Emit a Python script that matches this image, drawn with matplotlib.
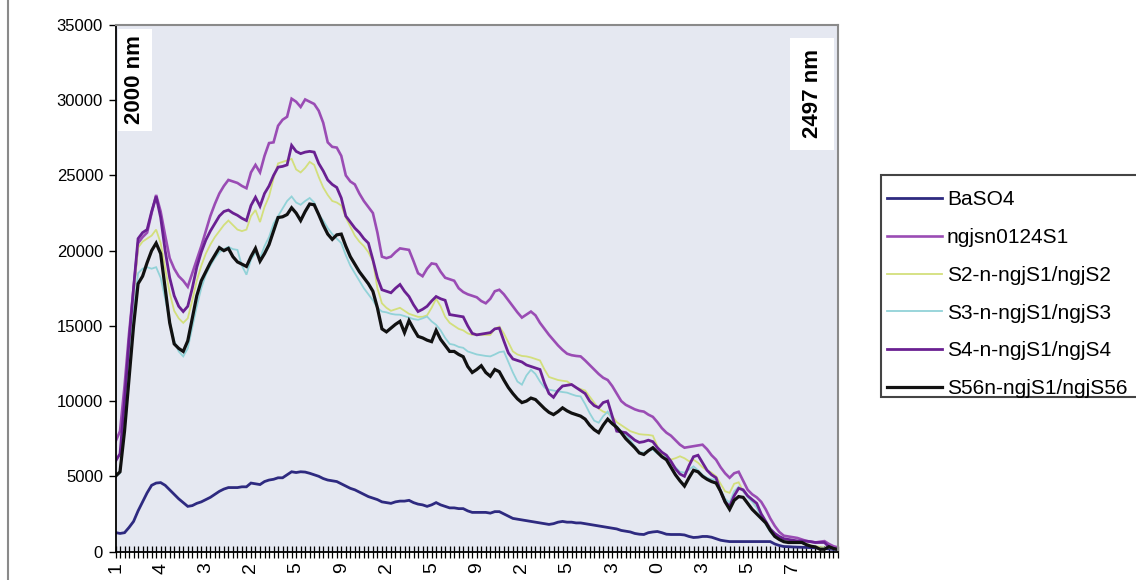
import numpy as np
import matplotlib
matplotlib.use("Agg")
import matplotlib.pyplot as plt
from matplotlib.lines import Line2D
from matplotlib.patches import Rectangle

plt.rcParams['font.family'] = ['Liberation Sans', 'DejaVu Sans']

# ---------------- data ----------------
series_names = ["BaSO4", "ngjsn0124S1", "S2-n-ngjS1/ngjS2", "S3-n-ngjS1/ngjS3",
                "S4-n-ngjS1/ngjS4", "S56n-ngjS1/ngjS56"]

baso4 = [
    1260, 1200, 1250, 1600, 2000, 2700, 3300, 3900, 4400, 4550,
    4580, 4400, 4100, 3800, 3500, 3250, 3000, 3050, 3200, 3300,
    3450, 3600, 3800, 4000, 4150, 4250, 4250, 4250, 4300, 4300,
    4550, 4500, 4450, 4650, 4750, 4800, 4900, 4900, 5100, 5300,
    5250, 5300, 5280, 5200, 5100, 5000, 4850, 4750, 4700, 4650,
    4500, 4350, 4200, 4100, 3950, 3800, 3650, 3550, 3450, 3300,
    3250, 3200, 3300, 3350, 3350, 3400, 3250, 3150, 3100, 3000,
    3100, 3250, 3100, 3000, 2900, 2900, 2850, 2850, 2700, 2600,
    2600, 2600, 2600, 2550, 2650, 2650, 2500, 2350, 2200, 2150,
    2100, 2050, 2000, 1950, 1900, 1850, 1800, 1850, 1950, 2000,
    1950, 1950, 1900, 1900, 1850, 1800, 1750, 1700, 1650, 1600,
    1550, 1500, 1400, 1350, 1300, 1200, 1150, 1130, 1250, 1300,
    1330, 1250, 1150, 1130, 1130, 1130, 1100, 1000, 930, 950,
    1000, 1000, 950, 850, 750, 700, 660, 660, 660, 660,
    660, 660, 660, 660, 660, 660, 500, 400, 330, 320,
    300, 290, 280, 270, 260, 250, 230, 200, 170, 140,
    130]

ngjsn0124s1 = [
    7300, 8000, 11000, 14500, 17500, 20500, 20900, 21200, 22500, 23700,
    22600, 21000, 19500, 18800, 18300, 18000, 17600, 18500, 19400, 20300,
    21300, 22300, 23100, 23800, 24300, 24700, 24600, 24500, 24300, 24150,
    25200, 25700, 25200, 26300, 27150, 27200, 28300, 28700, 28900, 30100,
    29900, 29550, 30050, 29900, 29750, 29300, 28500, 27200, 26900, 26850,
    26300, 25000, 24600, 24400, 23800, 23300, 22900, 22500, 21200, 19600,
    19500, 19600, 19900, 20150, 20100, 20050, 19300, 18500, 18300, 18800,
    19150, 19100, 18600, 18200, 18100, 18000, 17500, 17250, 17100, 17000,
    16900, 16650, 16500, 16800, 17300, 17400, 17100, 16700, 16300, 15900,
    15550, 15750, 15950, 15700, 15200, 14800, 14400, 14050, 13700, 13400,
    13150, 13050, 13000, 12970, 12700, 12400, 12100, 11800, 11550, 11400,
    11000, 10500, 10000, 9750, 9600, 9450, 9350, 9300, 9100, 8950,
    8600, 8200, 7900, 7700, 7400, 7100, 6900, 6950, 7000, 7050,
    7100, 6800, 6400, 6100, 5600, 5200, 4900, 5200, 5300, 4700,
    4100, 3800, 3600, 3300, 2800, 2200, 1700, 1300, 1050, 1000,
    950, 900, 800, 700, 650, 600, 650, 690, 500, 350,
    270]

s2 = [
    5100, 5300, 9000, 13000, 17000, 20200, 20600, 20800, 21000, 21400,
    20500, 18800, 17200, 16000, 15500, 15200, 15500, 16700, 18000, 19000,
    19800, 20400, 20900, 21300, 21700, 22000, 21700, 21400, 21300, 21400,
    22300, 22700, 21900, 22900, 23600, 24800, 25800, 25900, 26000, 26100,
    25400, 25200, 25500, 25900, 25700, 24900, 24200, 23700, 23300, 23200,
    23000, 22200, 21600, 21000, 20600, 20300, 19900, 19300, 17500, 16500,
    16200, 16000, 16100, 16200, 16000, 15800, 15700, 15600, 15600, 15700,
    16200, 16800, 16300, 15600, 15200, 15000, 14800, 14700, 14500, 14400,
    14450, 14400, 14400, 14400, 14800, 14950, 14500, 13900, 13300, 13100,
    13000, 12970, 12900, 12800, 12700, 12100, 11600, 11500, 11400, 11350,
    11310, 11100, 10900, 10800, 10700, 10300, 9900, 9500, 9300, 9200,
    9000, 8600, 8400, 8200, 8000, 7900, 7800, 7770, 7750, 7700,
    7000, 6500, 6200, 6110, 6200, 6330, 6200, 6000, 6100, 5900,
    5600, 5400, 5240, 5000, 4500, 4000, 3900, 4500, 4600, 4000,
    3700, 3400, 3000, 2400, 1900, 1400, 1100, 900, 800, 700,
    700, 700, 650, 500, 400, 350, 300, 250, 300, 200,
    130]

s3 = [
    5000, 5200, 8500, 12500, 16000, 18500, 18800, 18900, 18800, 18900,
    18200, 16800, 15300, 14000, 13300, 12970, 13500, 14900, 16300, 17500,
    18400, 19000, 19500, 19900, 20100, 20250, 20100, 20050, 19000, 18400,
    19400, 19850, 19500, 20300, 20900, 21800, 22300, 22800, 23300, 23600,
    23200, 23050, 23300, 23500, 23200, 22400, 22000, 21500, 21100, 20800,
    20500, 19700, 19000, 18500, 18000, 17500, 17100, 16700, 16200, 15950,
    15900, 15800, 15750, 15740, 15650, 15550, 15450, 15400, 15500, 15620,
    15300, 15070, 14700, 14200, 13800, 13740, 13600, 13540, 13300, 13200,
    13100, 13050, 13000, 12970, 13100, 13250, 13300, 12600, 11900, 11300,
    11090, 11700, 12080, 11800, 11300, 10900, 10760, 10700, 10650, 10600,
    10560, 10450, 10350, 10310, 9800, 9200, 8700, 8560, 9000, 9300,
    8800, 8300, 8000, 7770, 7400, 7000, 6600, 6570, 6700, 6770,
    6500, 6350, 6300, 5900, 5600, 5300, 5240, 5450, 5660, 5400,
    5100, 4900, 4800, 4780, 4100, 3500, 3250, 4000, 4300, 4000,
    3600, 3300, 2900, 2300, 1800, 1300, 1000, 850, 700, 650,
    600, 700, 600, 450, 350, 300, 200, 200, 250, 150,
    100]

s4 = [
    6000, 6500, 10000, 14000, 17500, 20800, 21200, 21400, 22600, 23600,
    22200, 20000, 18200, 17000, 16300, 15950, 16300, 17500, 18900, 19900,
    20700, 21300, 21800, 22300, 22600, 22700, 22500, 22350, 22150, 22000,
    23000, 23550, 22950, 23800, 24300, 25000, 25550, 25600, 25700, 27000,
    26600, 26450, 26550, 26600, 26550, 25800, 25300, 24700, 24400, 24200,
    23500, 22300, 21900, 21500, 21200, 20800, 20500, 19400, 18200, 17400,
    17300, 17200, 17500, 17750, 17300, 16950, 16400, 15950, 16100, 16300,
    16650, 16950, 16800, 16700, 15750, 15700, 15650, 15600, 15000, 14500,
    14400, 14450, 14500, 14550, 14800, 14850, 14000, 13200, 12800, 12700,
    12600, 12400, 12300, 12200, 12100, 11200, 10500, 10250, 10700, 11000,
    11050, 11100, 10900, 10700, 10500, 10000, 9700, 9560, 9900, 10000,
    9000, 8000, 7950, 7900, 7650, 7400, 7250, 7300, 7400, 7300,
    6900, 6600, 6400, 6000, 5500, 5150, 5000, 5700, 6300, 6400,
    5900, 5400, 5100, 4900, 4000, 3300, 3000, 3700, 4200, 4100,
    3700, 3450, 3200, 2500, 2000, 1500, 1200, 1000, 850, 800,
    750, 700, 700, 690, 650, 600, 600, 600, 300, 200,
    130]

s56 = [
    5000, 5300, 8000, 11500, 15000, 17800, 18300, 19200, 20000, 20500,
    19800, 17500, 15200, 13800, 13500, 13300, 14000, 15500, 17000, 18000,
    18600, 19200, 19700, 20200, 20000, 20150, 19600, 19250, 19100, 18950,
    19600, 20150, 19300, 19800, 20400, 21300, 22200, 22250, 22400, 22850,
    22500, 22000, 22600, 23100, 23050, 22400, 21700, 21100, 20750, 21050,
    21100, 20300, 19600, 19100, 18600, 18200, 17800, 17300, 16200, 14800,
    14600, 14850, 15100, 15300, 14550, 15350, 14800, 14300, 14200, 14050,
    13950, 14700, 14100, 13700, 13300, 13300, 13100, 12950, 12300, 11900,
    12100, 12350, 11900, 11650, 12100, 11950, 11400, 10900, 10500, 10150,
    9900, 10000, 10200, 10100, 9800, 9500, 9250, 9100, 9300, 9550,
    9350, 9200, 9100, 9000, 8800, 8400, 8100, 7900, 8400, 8800,
    8500, 8250, 7900, 7500, 7200, 6900, 6550, 6450, 6700, 6900,
    6600, 6300, 6100, 5600, 5100, 4700, 4350, 4900, 5400, 5300,
    5000, 4800, 4650, 4550, 4000, 3300, 2800, 3400, 3650, 3600,
    3200, 2800, 2500, 2200, 1900, 1400, 1000, 800, 650, 600,
    600, 600, 600, 450, 350, 300, 150, 150, 320, 200,
    130]

# visible (partly cut) category labels along the x axis, every 10th category
x_tick_labels = ["1", "4", "3", "2", "5", "9", "2", "5",
                 "9", "2", "5", "3", "0", "3", "5", "7"]
y_ticks = [0, 5000, 10000, 15000, 20000, 25000, 30000, 35000]
start_label = "2000 nm"
end_label = "2497 nm"

# ---------------- figure ----------------
W, H = 1136, 580
fig = plt.figure(figsize=(W / 100, H / 100), dpi=100)
fig.patch.set_facecolor('white')

ax_l, ax_r, ax_t, ax_b = 115.5, 838.0, 25.0, 551.5
ax = fig.add_axes([ax_l / W, 1 - ax_b / H, (ax_r - ax_l) / W, (ax_b - ax_t) / H])
ax.set_facecolor('#e5e8f1')

n = len(baso4)
x = np.arange(n)
styles = [
    (baso4, '#2e2a80', 2.0),
    (ngjsn0124s1, '#9a4cb4', 1.9),
    (s2, '#d3df7c', 1.3),
    (s3, '#92d2d8', 1.3),
    (s4, '#6a2092', 2.0),
    (s56, '#111111', 2.3),
]
for (vals, col, lw), name in zip(styles, series_names):
    ax.plot(x, vals, color=col, lw=lw, label=name, solid_joinstyle='miter')

ax.set_xlim(0, n - 1)
ax.set_ylim(0, 35000)
ax.set_yticks(y_ticks)
ax.set_yticklabels([str(v) for v in y_ticks], fontsize=12)
ax.tick_params(axis='y', direction='out', length=5, width=1.0, pad=4, colors='black')

ax.set_xticks(x)
labels = [''] * n
for k, lab in enumerate(x_tick_labels):
    labels[k * 10] = lab
ax.set_xticklabels(labels, rotation=90, fontsize=14, va='top')
ax.tick_params(axis='x', direction='inout', length=8, width=0.9, pad=4)

for s in ['left', 'bottom']:
    ax.spines[s].set_color('black')
    ax.spines[s].set_linewidth(1.3)
for s in ['top', 'right']:
    ax.spines[s].set_color('#8a8a8a')
    ax.spines[s].set_linewidth(1.5)

# boxed wavelength annotations
fig.text(135 / W, 1 - 80 / H, start_label, rotation=90, fontsize=16, fontweight='bold',
         ha='center', va='center',
         bbox=dict(boxstyle='square,pad=0.3', facecolor='white', edgecolor='none'))
fig.text(812 / W, 1 - 94 / H, end_label, rotation=90, fontsize=16, fontweight='bold',
         ha='center', va='center',
         bbox=dict(boxstyle='square,pad=0.5', facecolor='white', edgecolor='none'))

# legend (frame drawn separately so it can match the reference box)
fig.add_artist(Rectangle((881 / W, 1 - 397 / H), 262 / W, 222 / H,
                         transform=fig.transFigure, facecolor='white',
                         edgecolor='#444444', lw=1.5, zorder=1))
leg = fig.legend(loc='upper left', bbox_to_anchor=(877 / W, 1 - 180 / H),
                 borderaxespad=0, fontsize=15, frameon=False,
                 handlelength=2.6, handletextpad=0.25, borderpad=0.5,
                 labelspacing=0.9)
leg.set_zorder(2)

# page border line at the far left
fig.add_artist(Line2D([8 / W, 8 / W], [0, 1], transform=fig.transFigure,
                      color='#8a8a8a', lw=1.5))

fig.savefig('out.png', dpi=100)
